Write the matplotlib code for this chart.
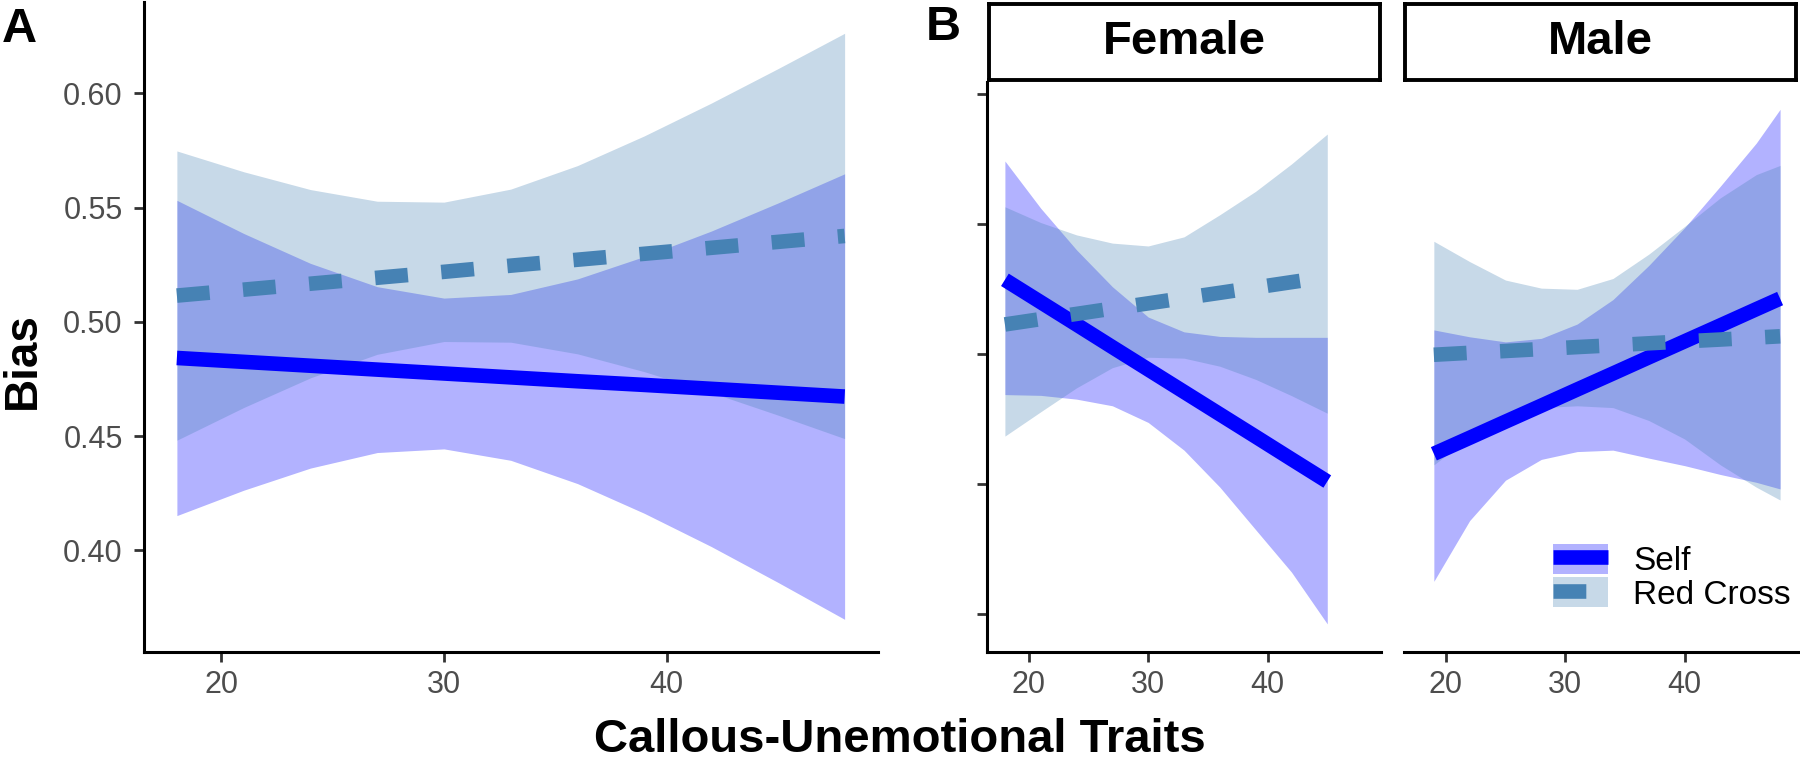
import matplotlib
matplotlib.use("Agg")
import matplotlib.pyplot as plt
from matplotlib.lines import Line2D
from matplotlib.patches import Patch
from matplotlib.ticker import FormatStrFormatter

plt.rcParams["font.family"] = ["Liberation Sans", "DejaVu Sans"]

# ---- data ----
# Panel A: all participants
a_x = [18, 21, 24, 27, 30, 33, 36, 39, 42, 45, 48]
a_self_fit = [0.4842, 0.4825, 0.4808, 0.4791, 0.4774, 0.4757, 0.4740, 0.4724, 0.4707, 0.4690, 0.4673]
a_self_lo = [0.4152, 0.4263, 0.4360, 0.4428, 0.4444, 0.4394, 0.4292, 0.4162, 0.4017, 0.3860, 0.3698]
a_self_hi = [0.5532, 0.5387, 0.5256, 0.5154, 0.5104, 0.5120, 0.5188, 0.5286, 0.5397, 0.5520, 0.5648]
a_rc_fit = [0.5115, 0.5141, 0.5167, 0.5193, 0.5219, 0.5246, 0.5272, 0.5298, 0.5324, 0.5350, 0.5376]
a_rc_lo = [0.4482, 0.4625, 0.4755, 0.4858, 0.4914, 0.4911, 0.4860, 0.4782, 0.4691, 0.4592, 0.4489]
a_rc_hi = [0.5748, 0.5657, 0.5579, 0.5528, 0.5524, 0.5581, 0.5684, 0.5814, 0.5957, 0.6108, 0.6263]

# Panel B: female
f_x = [18, 21, 24, 27, 30, 33, 36, 39, 42, 45]
f_self_fit = [0.5570, 0.5398, 0.5226, 0.5053, 0.4881, 0.4709, 0.4537, 0.4365, 0.4192, 0.4020]
f_self_lo = [0.4688, 0.4682, 0.4653, 0.4602, 0.4474, 0.4261, 0.3977, 0.3650, 0.3324, 0.2926]
f_self_hi = [0.6483, 0.6120, 0.5800, 0.5517, 0.5284, 0.5170, 0.5135, 0.5128, 0.5128, 0.5128]
f_rc_fit = [0.5227, 0.5268, 0.5308, 0.5349, 0.5389, 0.5430, 0.5470, 0.5511, 0.5552, 0.5592]
f_rc_lo = [0.4369, 0.4556, 0.4740, 0.4895, 0.4975, 0.4968, 0.4906, 0.4805, 0.4680, 0.4545]
f_rc_hi = [0.6131, 0.6010, 0.5915, 0.5852, 0.5830, 0.5900, 0.6070, 0.6250, 0.6460, 0.6690]

# Panel B: male
m_x = [19, 22, 25, 28, 31, 34, 37, 40, 43, 46, 48]
m_self_fit = [0.4233, 0.4356, 0.4480, 0.4603, 0.4727, 0.4850, 0.4974, 0.5097, 0.5220, 0.5344, 0.5426]
m_self_lo = [0.3253, 0.3720, 0.4030, 0.4190, 0.4250, 0.4261, 0.4200, 0.4142, 0.4074, 0.4014, 0.3963]
m_self_hi = [0.5185, 0.5132, 0.5093, 0.5120, 0.5230, 0.5418, 0.5680, 0.5970, 0.6290, 0.6620, 0.6880]
m_rc_fit = [0.4994, 0.5009, 0.5023, 0.5038, 0.5053, 0.5067, 0.5082, 0.5097, 0.5111, 0.5126, 0.5136]
m_rc_lo = [0.4148, 0.4361, 0.4545, 0.4588, 0.4602, 0.4588, 0.4489, 0.4347, 0.4148, 0.3977, 0.3878]
m_rc_hi = [0.5866, 0.5710, 0.5568, 0.5506, 0.5497, 0.5580, 0.5767, 0.5980, 0.6200, 0.6378, 0.6449]

x_ticks = [20, 30, 40]
a_yticks = [0.40, 0.45, 0.50, 0.55, 0.60]
b_yticks = [0.3, 0.4, 0.5, 0.6, 0.7]
groups = ["Self", "Red Cross"]
facets = ["Female", "Male"]

SELF_COLOR = "#0000FF"
RC_COLOR = "#4682B4"
LW = 10.5
DASH = (0, (2.25, 2.3))
W, H = 1800, 762

fig = plt.figure(figsize=(W / 100, H / 100), dpi=100)


def px_axes(x0, y0, x1, y1):
    # box given in pixels from the top-left corner
    return fig.add_axes([x0 / W, 1 - y1 / H, (x1 - x0) / W, (y1 - y0) / H])


def draw_group(ax, x, fit, lo, hi, color, dashed=False):
    ax.fill_between(x, lo, hi, color=color, alpha=0.3, lw=0)
    ax.plot(x, fit, color=color, lw=LW, ls=DASH if dashed else "-",
            solid_capstyle="butt", dash_capstyle="butt")


def style(ax, ylim, yticks):
    ax.set_xlim(16.5, 49.5)
    ax.set_ylim(*ylim)
    ax.set_xticks(x_ticks)
    ax.set_yticks(yticks)
    for s in ("top", "right"):
        ax.spines[s].set_visible(False)
    for s in ("left", "bottom"):
        ax.spines[s].set_linewidth(2.2)
    ax.tick_params(length=7, width=2, color="#333333", labelsize=22,
                   labelcolor="#4D4D4D")
    ax.tick_params(axis="x", pad=6)
    ax.tick_params(axis="y", pad=8)


# Panel A
ax_a = px_axes(143.5, 2, 878, 652)
draw_group(ax_a, a_x, a_self_fit, a_self_lo, a_self_hi, SELF_COLOR)
draw_group(ax_a, a_x, a_rc_fit, a_rc_lo, a_rc_hi, RC_COLOR, dashed=True)
style(ax_a, (0.3555, 0.640), a_yticks)
ax_a.yaxis.set_major_formatter(FormatStrFormatter("%.2f"))

# Panel B, female
ax_f = px_axes(987, 82, 1381, 652)
draw_group(ax_f, f_x, f_self_fit, f_self_lo, f_self_hi, SELF_COLOR)
draw_group(ax_f, f_x, f_rc_fit, f_rc_lo, f_rc_hi, RC_COLOR, dashed=True)
style(ax_f, (0.271, 0.709), b_yticks)
ax_f.tick_params(axis="y", labelleft=False)

# Panel B, male
ax_m = px_axes(1404, 82, 1798, 652)
draw_group(ax_m, m_x, m_self_fit, m_self_lo, m_self_hi, SELF_COLOR)
draw_group(ax_m, m_x, m_rc_fit, m_rc_lo, m_rc_hi, RC_COLOR, dashed=True)
style(ax_m, (0.271, 0.709), b_yticks)
ax_m.spines["left"].set_visible(False)
ax_m.tick_params(axis="y", left=False, labelleft=False)

# facet strips
for (x0, x1), name in zip([(989, 1380), (1405, 1796)], facets):
    sx = px_axes(x0, 4, x1, 80)
    sx.set_xticks([])
    sx.set_yticks([])
    for s in sx.spines.values():
        s.set_linewidth(2.8)
    sx.text(0.5, 0.5, name, ha="center", va="center", fontsize=34,
            fontweight="bold", transform=sx.transAxes)

# legend
handles = [
    (Patch(facecolor=SELF_COLOR, alpha=0.3, lw=0),
     Line2D([], [], color=SELF_COLOR, lw=LW, solid_capstyle="butt")),
    (Patch(facecolor=RC_COLOR, alpha=0.3, lw=0),
     Line2D([], [], color=RC_COLOR, lw=LW, ls=DASH, dash_capstyle="butt")),
]
fig.legend(handles, groups, loc="upper left", bbox_to_anchor=(1553 / W, 1 - 544 / H),
           frameon=False, borderpad=0, borderaxespad=0, fontsize=24,
           handlelength=1.65, handleheight=1.0, labelspacing=0.0,
           handletextpad=0.75)

# labels
fig.text(2 / W, 1 - 42 / H, "A", fontsize=35, fontweight="bold", va="baseline")
fig.text(926 / W, 1 - 40 / H, "B", fontsize=35, fontweight="bold", va="baseline")
fig.text(22.5 / W, 1 - 361 / H, "Bias", fontsize=33, fontweight="bold",
         rotation=90, ha="center", va="center")
fig.text(900 / W, 0.5 / H, "Callous-Unemotional Traits", fontsize=34,
         fontweight="bold", ha="center", va="bottom")

fig.savefig("out.png", dpi=100)
